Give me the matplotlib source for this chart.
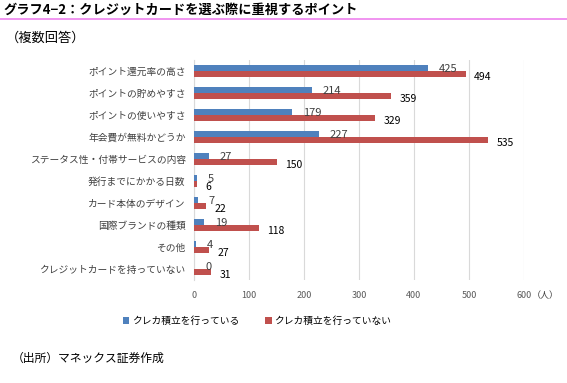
import matplotlib
matplotlib.use("Agg")
import matplotlib.pyplot as plt
import numpy as np

plt.rcParams['font.family'] = ['Noto Sans CJK JP', 'DejaVu Sans']

categories = ["ポイント還元率の高さ", "ポイントの貯めやすさ", "ポイントの使いやすさ",
              "年会費が無料かどうか", "ステータス性・付帯サービスの内容", "発行までにかかる日数",
              "カード本体のデザイン", "国際ブランドの種類", "その他", "クレジットカードを持っていない"]
saving = [425, 214, 179, 227, 27, 5, 7, 19, 4, 0]
not_saving = [494, 359, 329, 535, 150, 6, 22, 118, 27, 31]
series_names = ["クレカ積立を行っている", "クレカ積立を行っていない"]
xticks = [0, 100, 200, 300, 400, 500, 600]

blue = "#4f81bd"
red = "#c0504d"

fig = plt.figure(figsize=(5.67, 3.83), dpi=100)
ax = fig.add_axes([194 / 567, 1 - 280 / 383, 330 / 567, 220 / 383])

y = np.arange(len(categories))
h = 0.27
ax.barh(y - h / 2, saving, height=h, color=blue, label=series_names[0], zorder=3)
ax.barh(y + h / 2, not_saving, height=h, color=red, label=series_names[1], zorder=3)

for yi, v in zip(y, saving):
    ax.annotate(str(v), (v, yi - h / 2), xytext=(8, -1), textcoords="offset points",
                ha="left", va="center", fontsize=8, color="#404040", zorder=4)
for yi, v in zip(y, not_saving):
    ax.annotate(str(v), (v, yi + h / 2), xytext=(6, -2.5), textcoords="offset points",
                ha="left", va="center", fontsize=7.5, color="black", zorder=4)

ax.set_xlim(0, 600)
ax.set_ylim(len(categories) - 0.5, -0.5)
ax.set_xticks(xticks)
ax.set_xticklabels([str(t) for t in xticks], fontsize=6.5, color="#595959")
ax.set_yticks(y)
ax.set_yticklabels(categories, fontsize=7, color="#404040")
ax.tick_params(length=0, pad=8)
ax.tick_params(axis="y", pad=6)
ax.grid(axis="x", color="#d9d9d9", linewidth=0.8, zorder=0)
for s in ["top", "right", "bottom"]:
    ax.spines[s].set_visible(False)
ax.spines["left"].set_color("#d9d9d9")

fig.text(545 / 567, 1 - 296 / 383, "（人）", fontsize=6.5, color="#404040", ha="center", va="center")

ax.legend(loc="center", bbox_to_anchor=(257 / 567, 1 - 321 / 383), bbox_transform=fig.transFigure,
          ncol=2, frameon=False, fontsize=7, handlelength=0.7, handleheight=0.7,
          columnspacing=2.6, handletextpad=0.3)

fig.text(3 / 567, 1 - 10 / 383, "グラフ4−2：クレジットカードを選ぶ際に重視するポイント",
         fontsize=9.5, fontweight="bold", ha="left", va="center")
fig.add_artist(plt.Line2D([0, 1], [1 - 18.5 / 383] * 2, color="#ee82ee", linewidth=1.2,
                          transform=fig.transFigure))
fig.text(6 / 567, 1 - 38 / 383, "（複数回答）", fontsize=9.5, ha="left", va="center")
fig.text(12 / 567, 1 - 358 / 383, "（出所）マネックス証券作成", fontsize=8.5, ha="left", va="center")

fig.savefig("out.png", dpi=100)
